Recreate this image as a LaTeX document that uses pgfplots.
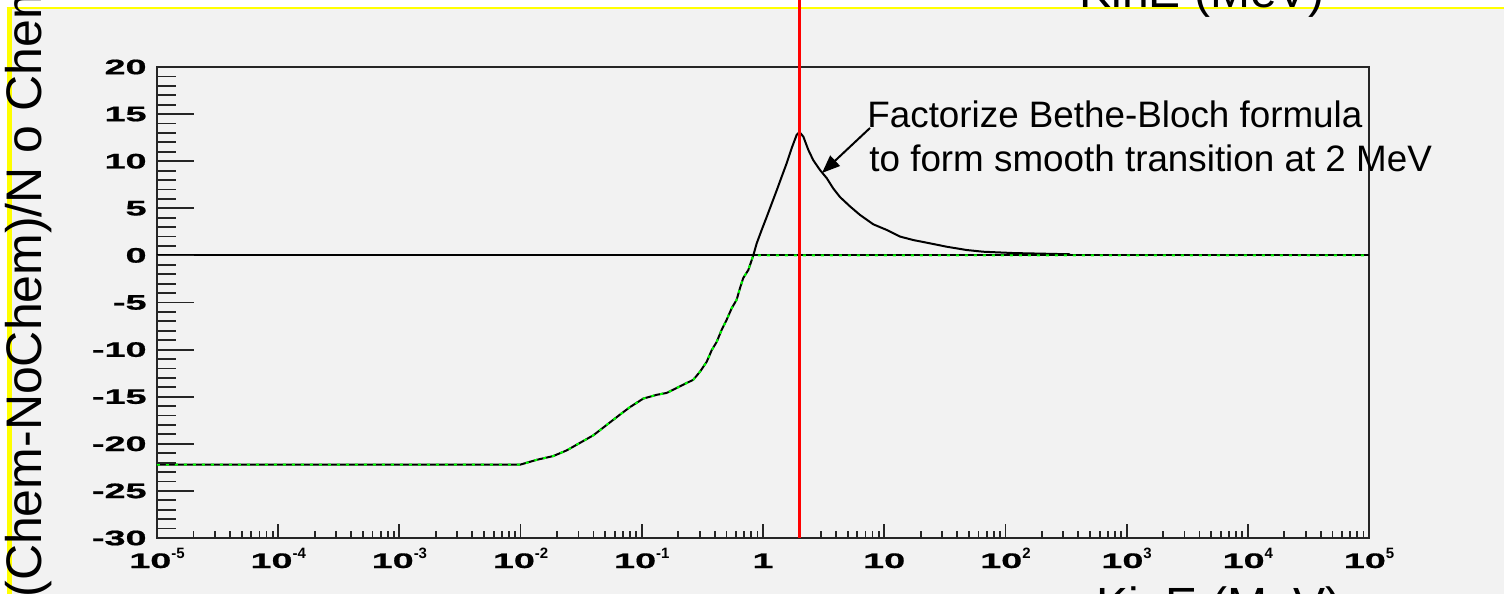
\documentclass[border=0pt]{standalone}
\usepackage{fontspec}
\setmainfont{Liberation Sans}
\newfontfamily\tickfont[FakeStretch=1.8,FakeBold=0.8]{Liberation Sans}
\usepackage{pgfplots}
\usepackage{pgfplotstable}
\pgfplotsset{compat=1.18}
\usetikzlibrary{arrows.meta}
\definecolor{bg}{RGB}{242,242,242}
\definecolor{ylw}{RGB}{255,255,0}
\definecolor{grn}{RGB}{0,255,0}
\newcommand\ee[1]{10\raisebox{5pt}{\normalfont\bfseries\fontsize{7.5}{8}\selectfont #1}}
\pgfplotstableread{
x y
1e-5 -22.2
1e-2 -22.2
0.0136 -21.7
0.0186 -21.3
0.0240 -20.7
0.0309 -19.9
0.0398 -19.1
0.0513 -18.0
0.0661 -16.9
0.0800 -16.1
0.1028 -15.2
0.1327 -14.8
0.1603 -14.6
0.2065 -13.9
0.2661 -13.2
0.3020 -12.35
0.3428 -11.3
0.3776 -10.06
0.4150 -9.18
0.4560 -7.9
0.5012 -6.84
0.5521 -5.6
0.6067 -4.7
0.6457 -3.48
0.6871 -2.4
0.7568 -1.55
0.8072 -0.49
0.8318 0.0
0.8872 1.28
0.9750 2.7
1.074 4.1
1.180 5.5
1.297 6.9
1.426 8.35
1.570 9.8
1.726 11.4
1.897 12.8
2.0 13.1
2.153 12.6
2.366 11.2
2.600 10.1
2.951 9.07
3.357 8.2
3.802 7.1
4.315 6.2
5.224 5.2
6.310 4.3
8.128 3.3
10.50 2.7
13.49 2.0
17.38 1.63
23.88 1.28
32.81 0.92
47.97 0.57
65.77 0.39
116.1 0.25
341.2 0.12
}\chem
\pgfplotstableread{
x y
1e-5 -22.2
1e-2 -22.2
0.0136 -21.7
0.0186 -21.3
0.0240 -20.7
0.0309 -19.9
0.0398 -19.1
0.0513 -18.0
0.0661 -16.9
0.0800 -16.1
0.1028 -15.2
0.1327 -14.8
0.1603 -14.6
0.2065 -13.9
0.2661 -13.2
0.3020 -12.35
0.3428 -11.3
0.3776 -10.06
0.4150 -9.18
0.4560 -7.9
0.5012 -6.84
0.5521 -5.6
0.6067 -4.7
0.6457 -3.48
0.6871 -2.4
0.7568 -1.55
0.8072 -0.49
0.8318 0.0
1e5 0.0
}\nochem
\begin{document}
\begin{tikzpicture}
\useasboundingbox (0,0) rectangle (752pt,297pt);
\clip (0,0) rectangle (752pt,297pt);
\fill[white] (0,0) rectangle (752pt,297pt);
\fill[bg] (3.35pt,0) rectangle (752pt,293.65pt);
\draw[ylw, line width=1.3pt] (3.35pt,293pt) -- (752pt,293pt);
\draw[ylw, line width=2.5pt] (4.6pt,0) -- (4.6pt,293.65pt);
\begin{axis}[
 at={(78.5pt,28pt)}, anchor=south west,
 scale only axis, width=606pt, height=235.5pt,
 xmode=log, xmin=1e-5, xmax=1e5, ymin=-30, ymax=20,
 tick align=inside,
 xtick pos=left, ytick pos=left,
 every tick/.append style={line width=0.9pt, black!85},
 tick label style={font=\tickfont\bfseries\fontsize{10.5}{12}\selectfont, inner sep=0pt},
 clip=false,
 axis line style={line width=1pt, black!85},
 major tick length=7pt, minor tick length=3.5pt,
 xtick={1e-5,1e-4,1e-3,1e-2,1e-1,1,10,100,1e3,1e4,1e5},
 xticklabels={\ee{-5},\ee{-4},\ee{-3},\ee{-2},\ee{-1},1,10,\ee{2},\ee{3},\ee{4},\ee{5}},
 minor xtick={2e-5,3e-5,4e-5,5e-5,6e-5,7e-5,8e-5,9e-5,
   2e-4,3e-4,4e-4,5e-4,6e-4,7e-4,8e-4,9e-4,
   2e-3,3e-3,4e-3,5e-3,6e-3,7e-3,8e-3,9e-3,
   2e-2,3e-2,4e-2,5e-2,6e-2,7e-2,8e-2,9e-2,
   2e-1,3e-1,4e-1,5e-1,6e-1,7e-1,8e-1,9e-1,
   2,3,4,5,6,7,8,9,
   20,30,40,50,60,70,80,90,
   200,300,400,500,600,700,800,900,
   2e3,3e3,4e3,5e3,6e3,7e3,8e3,9e3,
   2e4,3e4,4e4,5e4,6e4,7e4,8e4,9e4},
 ytick=\empty,
 x tick label style={anchor=base, yshift=-15pt},
]
\addplot[black, line width=1pt] coordinates {(1e-5,0) (1e5,0)};
\addplot[black, line width=1pt] table {\chem};
\addplot[grn, line width=1pt, dash pattern=on 1.5pt off 3pt] table {\nochem};
\addplot[red, line width=1.1pt] coordinates {(2,-30) (2,28)};
\end{axis}
\begin{axis}[
 at={(78.5pt,28pt)}, anchor=south west,
 scale only axis, width=606pt, height=235.5pt,
 xmode=log, xmin=1e-5, xmax=1e5, ymin=-30, ymax=20,
 tick align=inside,
 xtick pos=left, ytick pos=left,
 every tick/.append style={line width=0.9pt, black!85},
 tick label style={font=\tickfont\bfseries\fontsize{10.5}{12}\selectfont, inner sep=0pt},
 axis line style={draw=none},
 major tick length=18.5pt, minor tick length=9.5pt,
 xtick=\empty,
 ytick={-30,-25,-20,-15,-10,-5,0,5,10,15,20},
 yticklabels={-30,-25,-20,-15,-10,-5,0,5,10,15,20},
 minor y tick num=4,
 y tick label style={anchor=east, xshift=-5pt},
]
\addplot[draw=none] coordinates {(1,0)};
\end{axis}
\draw[line width=1pt, -{Triangle[length=9pt,width=7pt]}] (435pt,233pt) -- (411pt,210.5pt);
\node[anchor=base west, inner sep=0pt, font=\fontsize{18.4}{22}\selectfont] at (433.5pt,233.25pt) {Factorize Bethe-Bloch formula};
\node[anchor=base west, inner sep=0pt, font=\fontsize{18.4}{22}\selectfont] at (434.5pt,211pt) {to form smooth transition at 2 MeV};
\node[anchor=base west, inner sep=0pt, font=\fontsize{24}{28}\selectfont] at (539.5pt,293pt) {KinE (MeV)};
\node[anchor=base west, inner sep=0pt, font=\fontsize{24}{28}\selectfont] at (548pt,-13.5pt) {KinE (MeV)};
\node[rotate=90, anchor=base west, inner sep=0pt, font=\fontsize{25}{30}\selectfont] at (21pt,-2pt) {(Chem-NoChem)/N o Chem};
\end{tikzpicture}
\end{document}
